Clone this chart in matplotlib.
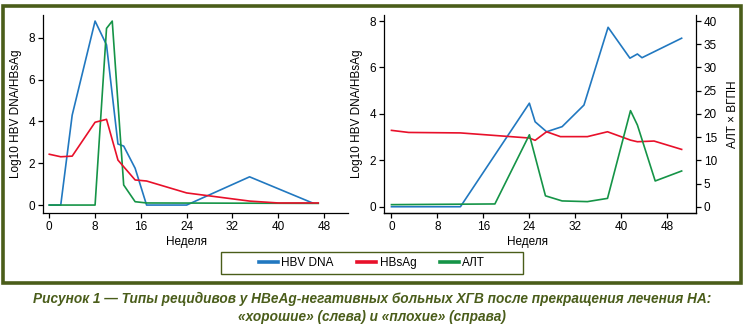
import matplotlib
matplotlib.use('Agg')
import matplotlib.pyplot as plt
from matplotlib import font_manager
from matplotlib.lines import Line2D
from matplotlib.patches import Rectangle

# "good" relapse (left panel)
weeks_dna_l = [0, 2, 4, 8, 10, 12, 13, 15, 17, 24, 35, 46]
dna_l = [0, 0, 4.3, 8.8, 7.66, 2.92, 2.82, 1.76, 0, 0, 1.35, 0.1]
weeks_hbsag_l = [0, 2, 4, 8, 10, 12, 15, 17, 24, 35, 40, 47]
hbsag_l = [2.43, 2.31, 2.34, 3.96, 4.1, 2.15, 1.2, 1.15, 0.58, 0.19, 0.1, 0.1]
weeks_alt_l = [0, 8, 10, 11, 13, 15, 17, 47]
alt_l = [0, 0, 8.45, 8.8, 0.96, 0.16, 0.1, 0.08]

# "bad" relapse (right panel), ALT goes on the right axis
weeks_dna_r = [0, 12, 24, 25, 27, 29.7, 33.5, 37.7, 41.5, 42.8, 43.6, 50.5]
dna_r = [0, 0, 4.46, 3.66, 3.23, 3.45, 4.38, 7.73, 6.4, 6.58, 6.42, 7.26]
weeks_hbsag_r = [0, 3, 12, 24, 25, 27, 29.4, 34.1, 37.6, 41.6, 42.8, 45.7, 50.5]
hbsag_r = [3.29, 3.2, 3.18, 2.96, 2.86, 3.23, 3.02, 3.02, 3.23, 2.87, 2.8, 2.83, 2.47]
weeks_alt_r = [0, 18, 24, 26.8, 29.7, 34.1, 37.6, 41.6, 42.8, 45.9, 50.5]
alt_r = [0.45, 0.6, 15.5, 2.35, 1.25, 1.1, 1.8, 20.7, 17.6, 5.55, 7.7]

week_ticks = [0, 8, 16, 24, 32, 40, 48]
series_names = ['HBV DNA', 'HBsAg', 'АЛТ']

BLUE = '#2178c0'
RED = '#e8102a'
GREEN = '#159447'
OLIVE = '#4a5d1a'

plt.rcParams['font.family'] = ['Liberation Sans', 'DejaVu Sans']
plt.rcParams['font.size'] = 8.5

installed = {f.name for f in font_manager.fontManager.ttflist}
cap_font = 'Liberation Sans Narrow' if 'Liberation Sans Narrow' in installed else 'Liberation Sans'

W, H = 745, 329
fig = plt.figure(figsize=(W / 100, H / 100), dpi=100)


def box(x0, y0, x1, y1):
    # pixel box (top-left origin) -> figure fraction rect
    return [x0 / W, 1 - y1 / H, (x1 - x0) / W, (y1 - y0) / H]


def style(ax, right=False):
    ax.spines['top'].set_visible(False)
    if not right:
        ax.spines['right'].set_visible(False)
    for s in ax.spines.values():
        s.set_linewidth(0.9)
    ax.tick_params(direction='out', length=3.5, width=0.9, pad=2, labelsize=8.5)


lw = 1.2

ax1 = fig.add_axes(box(43, 15, 348, 213))
ax1.plot(weeks_dna_l, dna_l, color=BLUE, lw=lw)
ax1.plot(weeks_alt_l, alt_l, color=GREEN, lw=lw)
ax1.plot(weeks_hbsag_l, hbsag_l, color=RED, lw=lw)
ax1.set_xlim(-1.1, 52.2)
ax1.set_ylim(-0.38, 9.09)
ax1.set_xticks(week_ticks)
ax1.set_yticks([0, 2, 4, 6, 8])
ax1.set_xlabel('Неделя')
ax1.xaxis.set_label_coords(0.472, -0.115)
ax1.set_ylabel('Log10 HBV DNA/HBsAg')
ax1.yaxis.set_label_coords(-0.068, 0.5)
style(ax1)

ax2 = fig.add_axes(box(384, 15, 696, 213))
ax2.plot(weeks_dna_r, dna_r, color=BLUE, lw=lw)
ax2.plot(weeks_hbsag_r, hbsag_r, color=RED, lw=lw)
ax2.set_xlim(-1.3, 53.0)
ax2.set_ylim(-0.27, 8.26)
ax2.set_xticks(week_ticks)
ax2.set_yticks([0, 2, 4, 6, 8])
ax2.set_xlabel('Неделя')
ax2.xaxis.set_label_coords(0.4615, -0.115)
ax2.set_ylabel('Log10 HBV DNA/HBsAg')
ax2.yaxis.set_label_coords(-0.066, 0.5)
style(ax2)

ax3 = ax2.twinx()
ax3.plot(weeks_alt_r, alt_r, color=GREEN, lw=lw)
ax3.set_ylim(-1.35, 41.3)
ax3.set_yticks(range(0, 41, 5))
ax3.set_ylabel('АЛТ × ВГПН')
ax3.yaxis.set_label_coords(1.1, 0.5)
style(ax3, right=True)
ax3.spines['left'].set_visible(False)

# legend in its own olive box under the panels
handles = [Line2D([], [], color=c, lw=2.6) for c in (BLUE, RED, GREEN)]
fig.legend(handles, series_names, loc='center', bbox_to_anchor=(372 / W, 1 - 263 / H),
           ncol=3, frameon=False, fontsize=8.5, handlelength=1.6, handletextpad=0.3,
           columnspacing=2.0)
fig.patches.append(Rectangle(box(221, 252, 523, 274)[:2], 302 / W, 22 / H,
                             transform=fig.transFigure, fill=False, ec=OLIVE, lw=1.0))

# outer frame
fig.patches.append(Rectangle(box(3.5, 5.5, 741, 282.5)[:2], 737.5 / W, 277 / H,
                             transform=fig.transFigure, fill=False, ec=OLIVE, lw=2.6))

cap_kw = dict(ha='center', va='center', color=OLIVE, fontsize=9.8,
              fontweight='bold', fontstyle='italic', family=[cap_font, 'DejaVu Sans'])
fig.text(372 / W, 1 - 299 / H,
         'Рисунок 1 — Типы рецидивов у HBeAg-негативных больных ХГВ после прекращения лечения НА:',
         **cap_kw)
fig.text(372 / W, 1 - 317 / H, '«хорошие» (слева) и «плохие» (справа)', **cap_kw)

fig.savefig('out.png', dpi=100)
